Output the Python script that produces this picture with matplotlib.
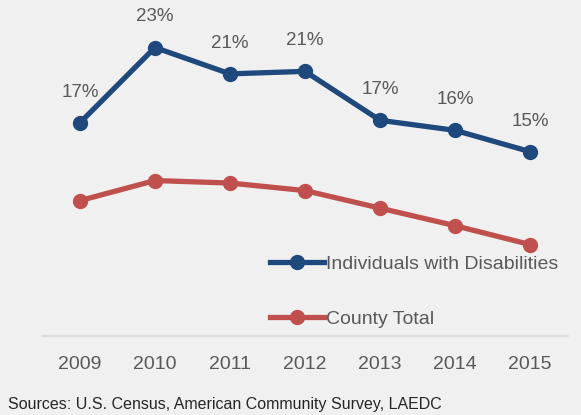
import matplotlib
matplotlib.use('Agg')
import matplotlib.pyplot as plt

plt.rcParams['font.family'] = ['Liberation Sans', 'DejaVu Sans']

# share of population (%)
years = ['2009', '2010', '2011', '2012', '2013', '2014', '2015']
disabilities = [17.0, 23.0, 20.9, 21.1, 17.2, 16.4, 14.7]
county_total = [10.8, 12.4, 12.2, 11.6, 10.2, 8.8, 7.3]
labels = ['17%', '23%', '21%', '21%', '17%', '16%', '15%']

blue = '#1F497D'
red = '#C0504D'
grey = '#595959'
bg = '#F0F0F0'

fig = plt.figure(figsize=(5.81, 4.15), dpi=100, facecolor=bg)
ax = fig.add_axes([0.073, 0.19, 0.904, 0.756], facecolor=bg)

x = range(len(years))
ax.plot(x, disabilities, color=blue, lw=3.8, marker='o', ms=10, label='Individuals with Disabilities')
ax.plot(x, county_total, color=red, lw=3.8, marker='o', ms=10, label='County Total')

for i, v in enumerate(disabilities):
    ax.annotate(labels[i], (i, v), xytext=(0, 22), textcoords='offset points',
                ha='center', va='center', fontsize=13.5, color=grey)

ax.set_xlim(-0.5, 6.5)
ax.set_ylim(0, 25)
ax.set_xticks(list(x))
ax.set_xticklabels(years, fontsize=14, color=grey)
ax.set_yticks([])
ax.tick_params(axis='x', length=0, pad=14)
for s in ['left', 'right', 'top']:
    ax.spines[s].set_visible(False)
ax.spines['bottom'].set_color('#D9D9D9')
ax.spines['bottom'].set_linewidth(1.2)

leg = ax.legend(loc='upper left', bbox_to_anchor=(270 / 581, 1 - 255 / 415),
                bbox_transform=fig.transFigure, frameon=False, fontsize=14,
                labelspacing=1.95, handlelength=2.8, handletextpad=0.1,
                borderpad=0, borderaxespad=0)
for t in leg.get_texts():
    t.set_color(grey)

fig.text(8 / 581, 1 - 404 / 415, 'Sources: U.S. Census, American Community Survey, LAEDC',
         fontsize=11.5, color='#262626', va='center')

fig.savefig('out.png', dpi=100, facecolor=bg)
